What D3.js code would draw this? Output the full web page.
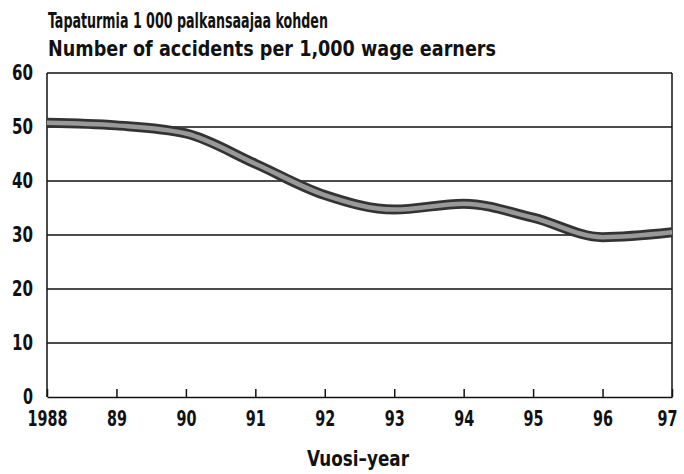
<!DOCTYPE html>
<html lang="en">
<head>
<meta charset="utf-8">
<title>Accidents per 1,000 wage earners</title>
<script src="https://d3js.org/d3.v7.min.js"></script>
<style>
  body { margin: 0; background: #fff; }
  text { font-family: "DejaVu Sans Condensed", "DejaVu Sans", sans-serif; font-stretch: condensed; font-weight: bold; fill: #111; }
</style>
</head>
<body>
<script>
// data
var years = [1988, 1989, 1990, 1991, 1992, 1993, 1994, 1995, 1996, 1997];
var yearLabels = ["1988", "89", "90", "91", "92", "93", "94", "95", "96", "97"];
var accidents = [50.8, 50.3, 48.8, 43.2, 37.4, 34.7, 35.8, 33.2, 29.6, 30.5];
var yTicks = [0, 10, 20, 30, 40, 50, 60];

var w = 684, h = 474;
var mLeft = 47, mRight = 672, mTop = 73, mBottom = 397;

var x_scale = d3.scaleLinear().domain([1988, 1997]).range([mLeft, mRight]);
var y_scale = d3.scaleLinear().domain([0, 60]).range([mBottom, mTop]);

var svg = d3.select("body").append("svg").attr("width", w).attr("height", h);

// titles, squeezed to the widths in the reference
svg.append("text").attr("x", 48).attr("y", 28).style("font-size", "21px")
  .attr("textLength", 280).attr("lengthAdjust", "spacingAndGlyphs")
  .text("Tapaturmia 1 000 palkansaajaa kohden");
svg.append("text").attr("x", 48).attr("y", 56).style("font-size", "21px")
  .attr("textLength", 448).attr("lengthAdjust", "spacingAndGlyphs")
  .text("Number of accidents per 1,000 wage earners");

// gridlines
svg.append("g").selectAll("line").data(yTicks.filter(function(d) { return d > 0; }))
  .enter().append("line")
  .attr("x1", mLeft).attr("x2", mRight)
  .attr("y1", function(d) { return y_scale(d); })
  .attr("y2", function(d) { return y_scale(d); })
  .attr("stroke", "#111").attr("stroke-width", 1.5);

// frame sides
svg.append("line").attr("x1", mLeft).attr("x2", mLeft).attr("y1", mTop).attr("y2", mBottom)
  .attr("stroke", "#111").attr("stroke-width", 1.5);
svg.append("line").attr("x1", mRight).attr("x2", mRight).attr("y1", mTop).attr("y2", mBottom)
  .attr("stroke", "#111").attr("stroke-width", 1.5);

// x axis
var x_axis = d3.axisBottom(x_scale).tickValues(years)
  .tickSizeInner(-8).tickSizeOuter(0)
  .tickFormat(function(d, i) { return yearLabels[i]; });
var gx = svg.append("g").attr("transform", "translate(0," + mBottom + ")").call(x_axis);
gx.select(".domain").attr("stroke", "#111").attr("stroke-width", 1.5);
gx.selectAll(".tick line").attr("stroke", "#111").attr("stroke-width", 1.5);
gx.selectAll(".tick text").attr("y", 29).attr("dy", null)
  .style("font-size", "22px").style("font-family", null).attr("fill", "#111")
  .attr("textLength", function(d, i) { return i === 0 ? 40 : 20; })
  .attr("lengthAdjust", "spacingAndGlyphs");
gx.selectAll(".tick").filter(function(d) { return d === 1997; })
  .select("text").attr("x", -5);

// y axis labels
var y_axis = d3.axisLeft(y_scale).tickValues(yTicks).tickSize(0).tickPadding(14);
var gy = svg.append("g").attr("transform", "translate(" + mLeft + ",0)").call(y_axis);
gy.select(".domain").remove();
gy.selectAll(".tick text").attr("dy", "0.3em").style("font-size", "22px").style("font-family", null).attr("fill", "#111")
  .attr("textLength", function(d) { return d === 0 ? 10 : 21; })
  .attr("lengthAdjust", "spacingAndGlyphs");

// x axis title
svg.append("text").attr("x", 358).attr("y", 466).attr("text-anchor", "middle")
  .style("font-size", "21px").attr("textLength", 102).attr("lengthAdjust", "spacingAndGlyphs")
  .text("Vuosi\u2013year");

// line: dark band with grey core
var line = d3.line().curve(d3.curveMonotoneX)
  .x(function(d, i) { return x_scale(years[i]); })
  .y(function(d) { return y_scale(d); });
svg.append("path").datum(accidents).attr("d", line)
  .attr("fill", "none").attr("stroke", "#333").attr("stroke-width", 10);
svg.append("path").datum(accidents).attr("d", line)
  .attr("fill", "none").attr("stroke", "#999").attr("stroke-width", 4.5);
</script>
</body>
</html>
